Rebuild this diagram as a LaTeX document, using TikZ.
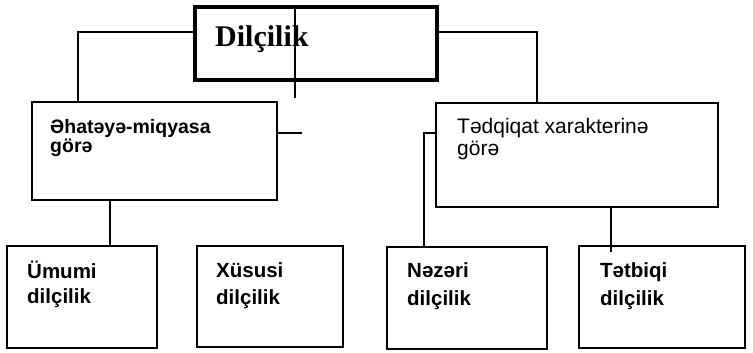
\documentclass[tikz,border=0pt]{standalone}
\usepackage{fontspec}
\setmainfont{Liberation Sans}
\newfontfamily\titlefont{Liberation Serif}
\begin{document}
\begin{tikzpicture}[x=1pt,y=-1pt,
  box/.style={draw=black,line width=2.6pt,rectangle,inner sep=0pt,outer sep=0pt,anchor=north west},
  topbox/.style={box,line width=4.5pt},
  lbl/.style={anchor=base west,inner sep=0pt,font=\bfseries\fontsize{19.5}{23}\selectfont},
  lblwide/.style={anchor=base west,inner sep=0pt,font=\fontsize{21}{24}\selectfont},
  lblsmall/.style={anchor=base west,inner sep=0pt,font=\bfseries\fontsize{20.5}{24}\selectfont},
  link/.style={draw=black,line width=2.2pt},
  thin/.style={draw=black,line width=1.6pt}]
\useasboundingbox[fill=white] (0,0) rectangle (753,353);
% boxes
\node[topbox,minimum width=242pt,minimum height=73pt] (top) at (195,7) {};
\node[box,minimum width=245pt,minimum height=98pt] (lft) at (32,102) {};
\node[box,minimum width=282pt,minimum height=104pt] (rgt) at (436,103) {};
\node[box,minimum width=150pt,minimum height=102pt] (umumi) at (7,246) {};
\node[box,minimum width=146pt,minimum height=101pt] (xususi) at (197,246) {};
\node[box,minimum width=160pt,minimum height=102pt] (nezeri) at (387,247) {};
\node[box,minimum width=166pt,minimum height=102pt] (tetbiqi) at (579,246) {};
% texts
\node[anchor=base west,inner sep=0pt,font=\titlefont\bfseries\fontsize{30}{32}\selectfont] (t0) at (215,47) {Dilçilik};
\node[lbl] (t1a) at (50,133) {Əhatəyə-miqyasa};
\node[lbl] (t1b) at (50,153) {görə};
\node[lblwide] (t2a) at (457,133) {Tədqiqat xarakterinə};
\node[lblwide] (t2b) at (457,155) {görə};
\node[lblsmall] (t3a) at (27,278) {Ümumi};
\node[lblsmall] (t3b) at (27,303) {dilçilik};
\node[lblsmall] (t4a) at (216,277) {Xüsusi};
\node[lblsmall] (t4b) at (216,304) {dilçilik};
\node[lblsmall] (t5a) at (407,277) {Nəzəri};
\node[lblsmall] (t5b) at (407,305) {dilçilik};
\node[lblsmall] (t6a) at (600,277) {Tətbiqi};
\node[lblsmall] (t6b) at (600,305) {dilçilik};
% free ends of the two short strokes
\coordinate (stemend) at (295,98);
\coordinate (stubend) at (302,133);
% connectors
\draw[thin] ([yshift=-25pt]top.north west) -| ([xshift=46pt]lft.north west);
\draw[thin] ([yshift=-25pt]top.north east) -| ([xshift=101pt]rgt.north west);
\draw[thin] (stemend |- top.north) -- (stemend);
\draw[link] (lft.east |- stubend) -- (stubend);
\draw[link] ([yshift=-30pt]rgt.north west) -| ([xshift=37pt]nezeri.north west);
\draw[link] ([xshift=103pt]umumi.north west) -- ([xshift=103pt]umumi.north west |- lft.south);
\draw[link] ([xshift=32pt,yshift=-6pt]tetbiqi.north west) -- ([xshift=32pt]tetbiqi.north west |- rgt.south);
\end{tikzpicture}
\end{document}
